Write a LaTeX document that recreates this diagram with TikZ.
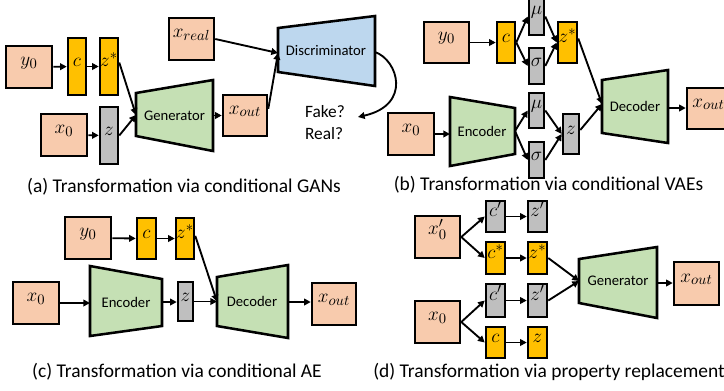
\documentclass[tikz,border=0pt]{standalone}
\usepackage{fontspec}
\setmainfont{Carlito}
\usetikzlibrary{arrows.meta,fit}
\definecolor{peach}{HTML}{F8CBAD}
\definecolor{gold}{HTML}{FFC000}
\definecolor{greyb}{HTML}{BFBFBF}
\definecolor{greenb}{HTML}{C5E0B4}
\definecolor{blueb}{HTML}{BDD7EE}
\begin{document}
\begin{tikzpicture}[x=0.75pt,y=-0.75pt,
  box/.style={draw=black, line width=1.9pt, inner sep=0pt, font=\fontsize{15.5}{18}\selectfont},
  inbox/.style={box, fill=peach},
  cbox/.style={box, fill=gold},
  gbox/.style={box, fill=greyb},
  trap/.style={draw=black, line width=1.9pt, line join=miter},
  lab/.style={font=\fontsize{11}{13}\selectfont, inner sep=1pt},
  captxt/.style={font=\fontsize{14.6}{16}\selectfont, inner sep=0pt},
  arr/.style={-{Triangle[length=5pt,width=5pt]}, line width=1.4pt},
]
\useasboundingbox (0,0) rectangle (724,390);

% ---------- (a) ----------
\node[inbox, fit={(6,46)(52,88)}] (ay0) {$y_0$};
\node[cbox, fit={(68,38)(86,95)}] (ac) {$c$};
\node[cbox, fit={(100,38)(118,95)}] (azs) {$z^*$};
\node[inbox, fit={(41,114)(87,156)}] (ax0) {$x_0$};
\node[gbox, fit={(100,107)(118,164)}] (az) {$z$};
\draw[trap, fill=greenb] (136,93) -- (213,80) -- (213,151) -- (136,136) -- cycle;
\node[lab] (agen) at (174.5,115.5) {Generator};
\coordinate (agenL) at (136,115);
\coordinate (agenR) at (213,115.5);
\node[inbox, fit={(223,95)(267,136)}] (axout) {$x_{out}$};
\node[inbox, fit={(169,18)(214,60)}] (axreal) {$x_{real}$};
\draw[trap, fill=blueb] (278,28) -- (375,16) -- (375,86) -- (278,72) -- cycle;
\node[lab] (adisc) at (326,51) {Discriminator};
\coordinate (adiscL) at (278,53);
\coordinate (adiscR) at (375,52);
\node[font=\fontsize{13}{16.5}\selectfont, align=left, inner sep=0pt] (afr) at (325,123) {Fake?\\Real?};
\coordinate (afrin) at (358,117);

\draw[arr] (ay0) -- (ac);
\draw[arr] (ac) -- (azs);
\draw[arr] (ax0) -- (az);
\draw[arr] ([yshift=3pt]azs.east) -- (agenL);
\draw[arr] (az.east) -- (agenL);
\draw[arr] (agenR) -- (axout.west);
\draw[arr] (axreal.east) -- (adiscL);
\draw[arr] ([yshift=5pt]axout.east) -- (adiscL);
\draw[arr] (adiscR) .. controls (398,60) and (412,105) .. (afrin);

% ---------- (b) ----------
\node[inbox, fit={(424,22)(469,63)}] (by0) {$y_0$};
\node[cbox, fit={(497,22)(515,63)}] (bc) {$c$};
\node[gbox, fit={(529,-2)(544,35)}] (bmu1) {$\mu$};
\node[gbox, fit={(529,48)(544,84)}] (bsig1) {$\sigma$};
\node[cbox, fit={(558,22)(577,63)}] (bzs) {$z^*$};
\node[inbox, fit={(388,113)(434,155)}] (bx0) {$x_0$};
\draw[trap, fill=greenb] (450,97) -- (515,108) -- (515,154) -- (450,166) -- cycle;
\node[lab] (benc) at (482,131) {Encoder};
\coordinate (bencL) at (450,134);
\coordinate (bencR) at (515,131);
\node[gbox, fit={(529,93)(544,128)}] (bmu2) {$\mu$};
\node[gbox, fit={(529,142)(544,178)}] (bsig2) {$\sigma$};
\node[gbox, fit={(563,114)(579,154)}] (bz) {$z$};
\draw[trap, fill=greenb] (602,80) -- (668,70) -- (668,143) -- (602,133) -- cycle;
\node[lab] (bdec) at (635,106.5) {Decoder};
\coordinate (bdecL) at (602,104);
\coordinate (bdecR) at (668,108);
\node[inbox, fit={(687,88)(730,129)}] (bxout) {$x_{out}$};

\draw[arr] (by0) -- (bc);
\draw[arr] (bc.east) -- (bmu1.west);
\draw[arr] (bc.east) -- (bsig1.west);
\draw[arr] (bmu1.east) -- (bzs.west);
\draw[arr] (bsig1.east) -- (bzs.west);
\draw[arr] (bx0.east) -- (bencL);
\draw[arr] (bencR) -- (bmu2.west);
\draw[arr] (bencR) -- (bsig2.west);
\draw[arr] (bmu2.east) -- (bz.west);
\draw[arr] (bsig2.east) -- (bz.west);
\draw[arr] ([yshift=3pt]bzs.east) -- (bdecL);
\draw[arr] ([yshift=3pt]bz.east) -- (bdecL);
\draw[arr] (bdecR) -- (bdecR -| bxout.west);

% ---------- (c) ----------
\node[inbox, fit={(65,217)(111,259)}] (cy0) {$y_0$};
\node[cbox, fit={(137,218)(156,259)}] (cc) {$c$};
\node[cbox, fit={(176,218)(194,259)}] (czs) {$z^*$};
\node[inbox, fit={(13,282)(59,324)}] (cx0) {$x_0$};
\draw[trap, fill=greenb] (90,266) -- (162,279) -- (162,326) -- (90,336) -- cycle;
\node[lab] (cenc) at (126,302) {Encoder};
\coordinate (cencL) at (90,303);
\coordinate (cencR) at (162,302);
\node[gbox, fit={(178,282)(193,321)}] (cz) {$z$};
\draw[trap, fill=greenb] (217,277) -- (288,265) -- (288,338) -- (217,326) -- cycle;
\node[lab] (cdec) at (252,301.5) {Decoder};
\coordinate (cdecL) at (217,301.5);
\coordinate (cdecR) at (288,302);
\node[inbox, fit={(312,283)(356,325)}] (cxout) {$x_{out}$};

\draw[arr] (cy0) -- (cc);
\draw[arr] (cc) -- (czs);
\draw[arr] ([yshift=2pt]czs.east) -- (cdecL);
\draw[arr] (cx0.east) -- (cencL);
\draw[arr] (cencR) -- (cencR -| cz.west);
\draw[arr] (cz.east) -- (cdecL);
\draw[arr] (cdecR) -- (cdecR -| cxout.west);

% ---------- (d) ----------
\node[inbox, fit={(415,216)(460,258)}] (dx0p) {$x_0'$};
\node[gbox, fit={(486,201)(505,232)}] (dcp1) {$c'$};
\node[gbox, fit={(528,201)(547,232)}] (dzp1) {$z'$};
\node[cbox, fit={(486,242)(505,274)}] (dcs) {$c^*$};
\node[cbox, fit={(528,242)(547,274)}] (dzs) {$z^*$};
\node[inbox, fit={(415,301)(460,343)}] (dx0) {$x_0$};
\node[gbox, fit={(486,284)(505,317)}] (dcp2) {$c'$};
\node[gbox, fit={(528,284)(547,317)}] (dzp2) {$z'$};
\node[cbox, fit={(486,327)(505,358)}] (dc) {$c$};
\node[cbox, fit={(528,327)(547,358)}] (dz) {$z$};
\draw[trap, fill=greenb] (579,259) -- (657,247) -- (657,318) -- (579,303) -- cycle;
\node[lab] (dgen) at (618,281) {Generator};
\coordinate (dgenL) at (579,281);
\coordinate (dgenR) at (657,283);
\node[inbox, fit={(674,262)(719,305)}] (dxout) {$x_{out}$};

\draw[arr] (dx0p.east) -- (dcp1.west);
\draw[arr] (dx0p.east) -- (dcs.west);
\draw[arr] (dcp1) -- (dzp1);
\draw[arr] (dcs) -- (dzs);
\draw[arr] (dx0.east) -- (dcp2.west);
\draw[arr] (dx0.east) -- (dc.west);
\draw[arr] (dcp2) -- (dzp2);
\draw[arr] (dc) -- (dz);
\draw[arr] (dzs.east) -- (dgenL);
\draw[arr] (dzp2.east) -- (dgenL);
\draw[arr] (dgenR) -- (dgenR -| dxout.west);

% ---------- captions ----------
\node[captxt] (capa) at (184,187) {(a) Transformation via conditional GANs};
\node[captxt] (capb) at (548.5,185) {(b) Transformation via conditional VAEs};
\node[captxt] (capc) at (177,372) {(c) Transformation via conditional AE};
\node[captxt] (capd) at (549,372) {(d) Transformation via property replacement};
\end{tikzpicture}
\end{document}
